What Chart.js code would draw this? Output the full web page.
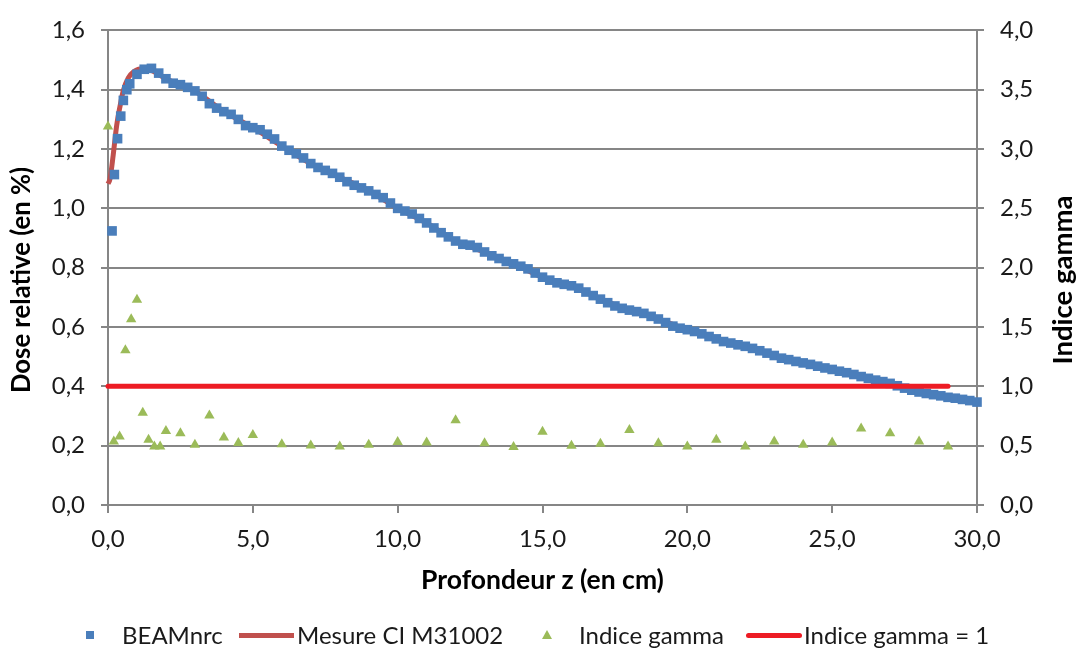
<!DOCTYPE html>
<html>
<head>
<meta charset="utf-8">
<title>Dose relative et indice gamma</title>
<script src="https://cdn.jsdelivr.net/npm/chart.js"></script>
<style>
  body { margin: 0; background: #fff; font-family: Lato, "Open Sans", sans-serif; }
  #wrap { position: relative; width: 1079px; height: 652px; }
  #chart { position: absolute; left: 0; top: 0; }
  .lg { position: absolute; }
  .txt { font-size: 24px; line-height: 30px; top: 620px; color: #1a1a1a; white-space: nowrap; }
  .sq { width: 8px; height: 8px; background: #4A7EBB; left: 86px; top: 631px; }
  .ln { height: 5px; top: 633px; }
  .tri { width: 0; height: 0; border-left: 5px solid transparent; border-right: 5px solid transparent;
         border-bottom: 9px solid #9BBB59; left: 542px; top: 630px; }
</style>
</head>
<body>
<div id="wrap">
  <canvas id="chart" width="1079" height="652"></canvas>
  <div class="lg sq"></div>
  <div class="lg txt" style="left:122px">BEAMnrc</div>
  <div class="lg ln" style="left:239px; width:55px; background:#C0504D"></div>
  <div class="lg txt" style="left:297px">Mesure CI M31002</div>
  <div class="lg tri"></div>
  <div class="lg txt" style="left:579px">Indice gamma</div>
  <div class="lg ln" style="left:746px; width:56px; background:#ED1C24; border-radius:3px"></div>
  <div class="lg txt" style="left:804px">Indice gamma = 1</div>
</div>
<script>
// BEAMnrc (simulation) - profondeur en cm, dose relative
const beamZ = [0.14, 0.22, 0.33, 0.44, 0.53, 0.65, 0.75,
  1.0, 1.25, 1.5, 1.75, 2.0, 2.25, 2.5, 2.75, 3.0, 3.25, 3.5, 3.75, 4.0, 4.25, 4.5, 4.75,
  5.0, 5.25, 5.5, 5.75, 6.0, 6.25, 6.5, 6.75, 7.0, 7.25, 7.5, 7.75, 8.0, 8.25, 8.5, 8.75,
  9.0, 9.25, 9.5, 9.75, 10.0, 10.25, 10.5, 10.75, 11.0, 11.25, 11.5, 11.75, 12.0, 12.25, 12.5, 12.75,
  13.0, 13.25, 13.5, 13.75, 14.0, 14.25, 14.5, 14.75, 15.0, 15.25, 15.5, 15.75, 16.0, 16.25, 16.5, 16.75,
  17.0, 17.25, 17.5, 17.75, 18.0, 18.25, 18.5, 18.75, 19.0, 19.25, 19.5, 19.75, 20.0, 20.25, 20.5, 20.75,
  21.0, 21.25, 21.5, 21.75, 22.0, 22.25, 22.5, 22.75, 23.0, 23.25, 23.5, 23.75, 24.0, 24.25, 24.5, 24.75,
  25.0, 25.25, 25.5, 25.75, 26.0, 26.25, 26.5, 26.75, 27.0, 27.25, 27.5, 27.75, 28.0, 28.25, 28.5, 28.75,
  29.0, 29.25, 29.5, 29.75, 30.0];
const beamDose = [0.924, 1.114, 1.235, 1.311, 1.364, 1.400, 1.420,
  1.452, 1.469, 1.472, 1.456, 1.437, 1.422, 1.417, 1.408, 1.396, 1.378, 1.353, 1.338, 1.326, 1.317, 1.300, 1.279,
  1.272, 1.265, 1.250, 1.234, 1.210, 1.196, 1.184, 1.170, 1.151, 1.138, 1.128, 1.118, 1.105, 1.090, 1.078, 1.069,
  1.059, 1.047, 1.036, 1.018, 1.000, 0.991, 0.981, 0.966, 0.951, 0.934, 0.918, 0.904, 0.890, 0.879, 0.876, 0.868,
  0.853, 0.840, 0.831, 0.821, 0.813, 0.805, 0.796, 0.782, 0.768, 0.758, 0.749, 0.744, 0.739, 0.731, 0.718, 0.706,
  0.694, 0.682, 0.671, 0.663, 0.657, 0.652, 0.646, 0.636, 0.627, 0.615, 0.603, 0.596, 0.591, 0.585, 0.577, 0.568,
  0.560, 0.551, 0.546, 0.540, 0.535, 0.528, 0.520, 0.512, 0.504, 0.495, 0.490, 0.484, 0.479, 0.474, 0.468, 0.462,
  0.457, 0.451, 0.446, 0.440, 0.433, 0.427, 0.421, 0.416, 0.410, 0.402, 0.394, 0.387, 0.381, 0.376, 0.372, 0.368,
  0.363, 0.360, 0.356, 0.352, 0.347];

// Mesure chambre d'ionisation M31002
const mesureZ = [0, 0.07, 0.18, 0.3, 0.42, 0.53, 0.7, 0.88, 1.1, 1.4, 2, 3, 4, 5, 6, 7, 8, 9, 10,
  11, 12, 13, 14, 15, 16, 17, 18, 19, 20, 21, 22, 23, 24, 25, 26, 27, 28, 29, 30];
const mesureDose = [1.083, 1.100, 1.180, 1.280, 1.347, 1.398, 1.440, 1.460, 1.470, 1.468, 1.437, 1.395, 1.327,
  1.272, 1.210, 1.151, 1.105, 1.059, 1.000, 0.951, 0.890, 0.853, 0.813, 0.768, 0.739, 0.694, 0.657, 0.627,
  0.591, 0.560, 0.535, 0.504, 0.479, 0.457, 0.433, 0.410, 0.381, 0.363, 0.347];

// Indice gamma (axe de droite)
const gammaZ = [0, 0.2, 0.4, 0.6, 0.8, 1.0, 1.2, 1.4, 1.6, 1.8, 2.0, 2.5, 3.0, 3.5, 4.0, 4.5, 5.0,
  6, 7, 8, 9, 10, 11, 12, 13, 14, 15, 16, 17, 18, 19, 20, 21, 22, 23, 24, 25, 26, 27, 28, 29];
const gammaVal = [3.19, 0.535, 0.577, 1.304, 1.565, 1.73, 0.777, 0.549, 0.494, 0.494, 0.623, 0.604, 0.508,
  0.755, 0.568, 0.522, 0.59, 0.513, 0.502, 0.494, 0.508, 0.53, 0.527, 0.714, 0.521, 0.488, 0.618, 0.5,
  0.516, 0.632, 0.521, 0.494, 0.549, 0.494, 0.535, 0.508, 0.527, 0.645, 0.604, 0.535, 0.494];

// seuil gamma = 1
const seuilZ = [0, 29];
const seuilVal = [1, 1];

const pts = (xs, ys) => xs.map((x, i) => ({ x: x, y: ys[i] }));
const comma = v => Number(v).toFixed(1).replace('.', ',');

const GRID = '#868686';
const FONT = 'Lato, "Open Sans", sans-serif';
Chart.defaults.font.family = FONT;
Chart.defaults.color = '#1a1a1a';

// vertical axis titles, both read bottom to top like in Excel
const sideTitles = {
  id: 'sideTitles',
  afterDraw(chart) {
    const ctx = chart.ctx;
    const draw = (text, x, y, size) => {
      ctx.save();
      ctx.translate(x, y);
      ctx.rotate(-Math.PI / 2);
      ctx.font = 'bold ' + size + 'px ' + FONT;
      ctx.fillStyle = '#000';
      ctx.textAlign = 'center';
      ctx.textBaseline = 'middle';
      ctx.fillText(text, 0, 0);
      ctx.restore();
    };
    draw('Dose relative (en %)', 22, 280, 25.7);
    draw('Indice gamma', 1063, 280, 27.5);
  }
};

new Chart(document.getElementById('chart'), {
  type: 'scatter',
  data: {
    datasets: [
      {
        label: 'BEAMnrc',
        data: pts(beamZ, beamDose),
        yAxisID: 'y',
        pointStyle: 'rect',
        pointRadius: 6.8,
        backgroundColor: '#4A7EBB',
        borderColor: '#4A7EBB',
        borderWidth: 0,
        order: 2,
        clip: false
      },
      {
        label: 'Mesure CI M31002',
        data: pts(mesureZ, mesureDose),
        yAxisID: 'y',
        showLine: true,
        cubicInterpolationMode: 'monotone',
        pointRadius: 0,
        borderColor: '#C0504D',
        borderWidth: 5,
        order: 3,
        clip: false
      },
      {
        label: 'Indice gamma',
        data: pts(gammaZ, gammaVal),
        yAxisID: 'y2',
        pointStyle: 'triangle',
        pointRadius: 6,
        backgroundColor: '#9BBB59',
        borderColor: '#9BBB59',
        borderWidth: 0,
        order: 1,
        clip: false
      },
      {
        label: 'Indice gamma = 1',
        data: pts(seuilZ, seuilVal),
        yAxisID: 'y2',
        showLine: true,
        pointRadius: 0,
        borderColor: '#ED1C24',
        borderWidth: 5,
        borderCapStyle: 'round',
        order: 0,
        clip: false
      }
    ]
  },
  options: {
    responsive: false,
    animation: false,
    layout: { padding: { top: 20, bottom: 47, left: 0, right: 0 } },
    plugins: { legend: { display: false }, tooltip: { enabled: false } },
    scales: {
      x: {
        type: 'linear',
        min: 0, max: 30,
        afterFit: s => { s.height = 100; },
        ticks: { stepSize: 5, padding: 12, font: { size: 24 }, callback: v => comma(v) },
        grid: { drawOnChartArea: false, color: GRID, lineWidth: 2, tickLength: 8 },
        border: { color: GRID, width: 2 },
        title: { display: true, text: 'Profondeur z (en cm)', font: { size: 26.5, weight: 'bold' },
                 color: '#000', padding: { top: 0, bottom: 9 } }
      },
      y: {
        position: 'left',
        min: 0, max: 1.6,
        afterFit: s => { s.width = 108; },
        ticks: { stepSize: 0.2, padding: 16, font: { size: 24 }, callback: v => comma(v) },
        grid: { color: GRID, lineWidth: 2, tickLength: 7 },
        border: { color: GRID, width: 2 },
        title: { display: false }
      },
      y2: {
        position: 'right',
        min: 0, max: 4,
        afterFit: s => { s.width = 102; },
        ticks: { stepSize: 0.5, padding: 16, font: { size: 24 }, callback: v => comma(v) },
        grid: { drawOnChartArea: false, color: GRID, lineWidth: 2, tickLength: 7 },
        border: { color: GRID, width: 2 },
        title: { display: false }
      }
    }
  },
  plugins: [sideTitles]
});
</script>
</body>
</html>
